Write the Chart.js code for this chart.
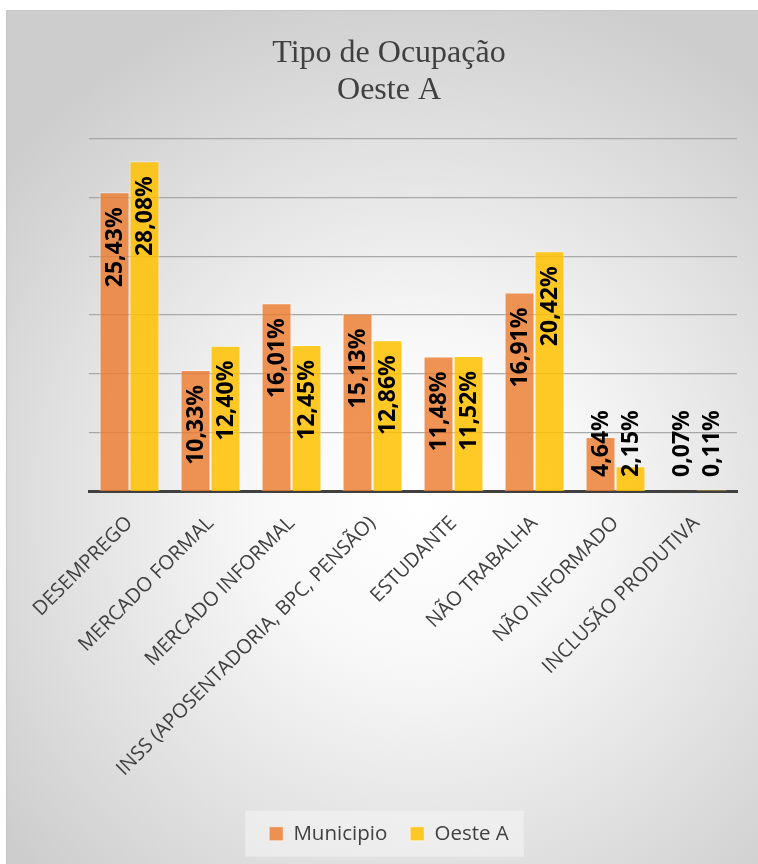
<!DOCTYPE html>
<html>
<head>
<meta charset="utf-8">
<script src="https://cdn.jsdelivr.net/npm/chart.js@4/dist/chart.umd.min.js"></script>
<style>
  html, body { margin: 0; padding: 0; background: #fff; overflow: hidden; width: 758px; height: 864px; }
  #box {
    position: absolute; left: 6px; top: 10px;
    width: 764px; height: 860px;
    border: 1px solid #c6c6c6;
    background: radial-gradient(ellipse 70% 62% at 54% 57%, #ffffff 0%, #f8f8f8 30%, #cdcdcd 100%);
  }
</style>
</head>
<body>
<div id="box"><canvas id="myChart"></canvas></div>
<script>
var categories = ['DESEMPREGO', 'MERCADO FORMAL', 'MERCADO INFORMAL', 'INSS (APOSENTADORIA, BPC, PENSÃO)',
                  'ESTUDANTE', 'NÃO TRABALHA', 'NÃO INFORMADO', 'INCLUSÃO PRODUTIVA'];
var municipio = [25.43, 10.33, 16.01, 15.13, 11.48, 16.91, 4.64, 0.07];
var oesteA = [28.08, 12.40, 12.45, 12.86, 11.52, 20.42, 2.15, 0.11];
var titleLines = ['Tipo de Ocupação', 'Oeste A'];

// rotated value labels, at the inside end of each bar
var valueLabels = {
    id: 'valueLabels',
    afterDatasetsDraw: function(chart){
        var ctx = chart.ctx;
        ctx.save();
        ctx.font = 'bold 23px "Open Sans"';
        ctx.fillStyle = '#000';
        ctx.textBaseline = 'middle';
        ctx.textAlign = 'left';
        chart.data.datasets.forEach(function(ds, i){
            chart.getDatasetMeta(i).data.forEach(function(bar, j){
                var txt = ds.data[j].toFixed(2).replace('.', ',') + '%';
                var w = ctx.measureText(txt).width;
                var start = bar.y + 15 + w;
                if(start > bar.base - 14){
                    start = bar.base - 14;
                }
                ctx.save();
                ctx.translate(bar.x + 1, start);
                ctx.rotate(-Math.PI / 2);
                ctx.fillText(txt, 0, 0);
                ctx.restore();
            });
        });
        ctx.restore();
    }
};

// light panel behind the legend items
var legendPanel = {
    id: 'legendPanel',
    beforeDraw: function(chart){
        var boxes = chart.legend && chart.legend.legendHitBoxes;
        if(!boxes || !boxes.length) return;
        var l = Infinity, r = -Infinity, cy = 0;
        boxes.forEach(function(b){
            l = Math.min(l, b.left);
            r = Math.max(r, b.left + b.width);
            cy += b.top + b.height / 2;
        });
        cy = cy / boxes.length;
        var ctx = chart.ctx;
        ctx.save();
        ctx.fillStyle = 'rgba(245,245,245,0.55)';
        ctx.fillRect(l - 24, cy - 23, (r - l) + 39, 46);
        ctx.restore();
    }
};

var ctx = document.getElementById('myChart').getContext('2d');
var myChart = new Chart(ctx, {
    type: 'bar',
    data: {
        labels: categories,
        datasets: [{
            label: 'Municipio',
            data: municipio,
            backgroundColor: 'rgba(237,125,49,0.82)',
            borderColor: 'rgba(255,255,255,0.55)',
            borderWidth: 1
        }, {
            label: 'Oeste A',
            data: oesteA,
            backgroundColor: 'rgba(255,192,0,0.85)',
            borderColor: 'rgba(255,255,255,0.55)',
            borderWidth: 1
        }]
    },
    options: {
        responsive: true,
        maintainAspectRatio: false,
        animation: false,
        categoryPercentage: 0.74,
        barPercentage: 1,
        layout: { padding: { left: 0, right: 0, top: 0, bottom: 17 } },
        scales: {
            x: {
                grid: { display: false },
                border: { display: true, color: '#404040', width: 3 },
                ticks: {
                    minRotation: 45, maxRotation: 45,
                    padding: 12,
                    color: '#404040',
                    font: { family: 'Open Sans', size: 20 }
                },
                afterFit: function(scale){
                    scale.height = 309;
                    scale.paddingLeft = 0;
                    scale.paddingRight = 0;
                }
            },
            y: {
                min: 0, max: 30,
                ticks: { display: false, stepSize: 5 },
                grid: { color: '#a8a8a8', lineWidth: 1.2, drawTicks: false },
                border: { display: false },
                afterFit: function(scale){
                    scale.width = 82;
                }
            },
            // empty right axis, only keeps the plot clear of the right edge
            yRight: {
                position: 'right',
                ticks: { display: false },
                grid: { display: false },
                border: { display: false },
                afterFit: function(scale){
                    scale.width = 34;
                }
            }
        },
        plugins: {
            title: {
                display: true,
                text: titleLines,
                color: '#404040',
                font: { family: 'Liberation Serif', size: 32, weight: 'normal', lineHeight: 1.15 },
                padding: { top: 24, bottom: 30 }
            },
            legend: {
                position: 'bottom',
                labels: {
                    boxWidth: 14, boxHeight: 14,
                    padding: 23,
                    color: '#404040',
                    font: { family: 'Open Sans', size: 20.5 }
                }
            },
            tooltip: { enabled: false }
        }
    },
    plugins: [valueLabels, legendPanel]
});
</script>
</body>
</html>
